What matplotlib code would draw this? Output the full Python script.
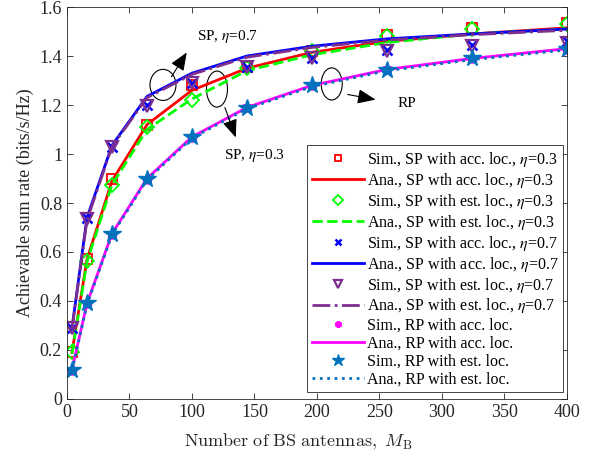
import matplotlib
matplotlib.use("Agg")
import matplotlib.pyplot as plt
from matplotlib.patches import Ellipse

plt.rcParams['font.family'] = ['Liberation Serif', 'DejaVu Serif']
plt.rcParams['mathtext.fontset'] = 'stix'

# number of BS antennas
M = [4, 16, 36, 64, 100, 144, 196, 256, 324, 400]

# SP, eta = 0.3
sim_sp_acc_03 = [0.19, 0.57, 0.90, 1.12, 1.28, 1.355, 1.42, 1.485, 1.515, 1.535]
ana_sp_acc_03 = [0.19, 0.57, 0.89, 1.12, 1.26, 1.35, 1.415, 1.46, 1.49, 1.515]
sim_sp_est_03 = [0.19, 0.565, 0.875, 1.11, 1.22, 1.35, 1.42, 1.48, 1.51, 1.53]
ana_sp_est_03 = [0.185, 0.56, 0.875, 1.10, 1.225, 1.34, 1.405, 1.455, 1.49, 1.51]

# SP, eta = 0.7
sim_sp_acc_07 = [0.29, 0.74, 1.03, 1.20, 1.29, 1.355, 1.39, 1.425, 1.445, 1.46]
ana_sp_acc_07 = [0.29, 0.74, 1.035, 1.235, 1.33, 1.40, 1.44, 1.47, 1.49, 1.51]
sim_sp_est_07 = [0.29, 0.735, 1.03, 1.195, 1.29, 1.355, 1.39, 1.42, 1.44, 1.455]
ana_sp_est_07 = [0.285, 0.73, 1.03, 1.23, 1.325, 1.395, 1.435, 1.465, 1.487, 1.505]

# RP
sim_rp_acc = [0.12, 0.39, 0.675, 0.90, 1.07, 1.19, 1.28, 1.345, 1.39, 1.43]
ana_rp_acc = [0.12, 0.39, 0.675, 0.90, 1.07, 1.19, 1.28, 1.345, 1.39, 1.43]
sim_rp_est = [0.12, 0.39, 0.673, 0.90, 1.068, 1.187, 1.28, 1.343, 1.39, 1.427]
ana_rp_est = [0.115, 0.385, 0.67, 0.895, 1.065, 1.185, 1.275, 1.34, 1.385, 1.425]

purple = '#7E2F8E'
mblue = '#0072BD'

fig = plt.figure(figsize=(5.97, 4.61), dpi=100)
ax = fig.add_axes([0.1122, 0.1345, 0.8375, 0.8503])

lw = 2.0
ax.plot(M, sim_sp_acc_03, 's', color='r', mfc='none', ms=7, mew=1.3,
        label=r'Sim., SP with acc. loc., $\eta$=0.3')
ax.plot(M, ana_sp_acc_03, '-', color='r', lw=lw,
        label=r'Ana., SP wth acc. loc., $\eta$=0.3')
ax.plot(M, sim_sp_est_03, 'D', color=(0, 1, 0), mfc='none', ms=7, mew=1.3,
        label=r'Sim., SP with est. loc., $\eta$=0.3')
ax.plot(M, ana_sp_est_03, '--', color=(0, 1, 0), lw=lw,
        label=r'Ana., SP with est. loc., $\eta$=0.3')
ax.plot(M, sim_sp_acc_07, 'x', color='b', ms=7, mew=1.8,
        label=r'Sim., SP with acc. loc., $\eta$=0.7')
ax.plot(M, ana_sp_acc_07, '-', color='b', lw=lw,
        label=r'Ana., SP with acc. loc., $\eta$=0.7')
ax.plot(M, sim_sp_est_07, 'v', color=purple, mfc='none', ms=9, mew=1.6,
        label=r'Sim., SP with est. loc., $\eta$=0.7')
ax.plot(M, ana_sp_est_07, '-.', color=purple, lw=lw,
        label=r'Ana., SP with est. loc., $\eta$=0.7')
ax.plot(M, sim_rp_acc, marker=(6, 2, 0), ls='none', color=(1, 0, 1), ms=7, mew=1.8,
        label='Sim., RP with acc. loc.')
ax.plot(M, ana_rp_acc, '-', color=(1, 0, 1), lw=lw,
        label='Ana., RP with acc. loc.')
ax.plot(M, sim_rp_est, '*', color=mblue, ms=13,
        label='Sim., RP with est. loc.')
ax.plot(M, ana_rp_est, ':', color=mblue, lw=lw,
        label='Ana., RP with est. loc.')

ax.set_xlim(0, 400)
ax.set_ylim(0, 1.6)
ax.set_xticks(range(0, 401, 50))
ax.set_yticks([0, 0.2, 0.4, 0.6, 0.8, 1, 1.2, 1.4, 1.6])
ax.set_yticklabels(['0', '0.2', '0.4', '0.6', '0.8', '1', '1.2', '1.4', '1.6'])
ax.tick_params(direction='in', top=True, right=True, labelsize=13, length=4,
               width=0.6, colors='#262626', labelcolor='#262626')
for s in ax.spines.values():
    s.set_linewidth(0.6)
    s.set_color('#262626')

ax.set_ylabel('Achievable sum rate (bits/s/Hz)', fontsize=13, color='#262626')
ax.set_xlabel(r'$\mathrm{Number\ of\ BS\ antennas,}\ M_\mathrm{B}$', fontsize=13,
              color='#262626', math_fontfamily='cm')
ax.xaxis.set_label_coords(0.462, -0.085)

# ellipses grouping the curves, with arrows to their labels
ax.add_patch(Ellipse((76.8, 1.282), 20.8, 0.127, fill=False, lw=0.8, ec='k'))
ax.add_patch(Ellipse((120, 1.265), 16.8, 0.147, fill=False, lw=0.8, ec='k'))
ax.add_patch(Ellipse((211.8, 1.286), 16.8, 0.131, fill=False, lw=0.8, ec='k'))

arrow = dict(arrowstyle='-|>,head_length=1.1,head_width=0.45', color='k', lw=0.8)
ax.annotate('', xy=(97, 1.424), xytext=(82.4, 1.306), arrowprops=arrow)
ax.annotate('', xy=(135.8, 1.057), xytext=(125.6, 1.2), arrowprops=arrow)
ax.annotate('', xy=(249, 1.22), xytext=(222.4, 1.245), arrowprops=arrow)

ax.text(104, 1.478, r'SP, $\eta$=0.7', fontsize=11, va='center')
ax.text(125.6, 0.992, r'SP, $\eta$=0.3', fontsize=11, va='center')
ax.text(264.8, 1.208, 'RP', fontsize=11, va='center')

leg = ax.legend(loc='lower right', bbox_to_anchor=(0.993, 0.018), fontsize=11.5,
                fancybox=False, edgecolor='#262626', framealpha=1,
                handlelength=3.3, handletextpad=0.15, labelspacing=0.12,
                borderpad=0.3, borderaxespad=0, markerscale=0.7)
leg.get_frame().set_linewidth(0.6)

fig.savefig('out.png', dpi=100)
